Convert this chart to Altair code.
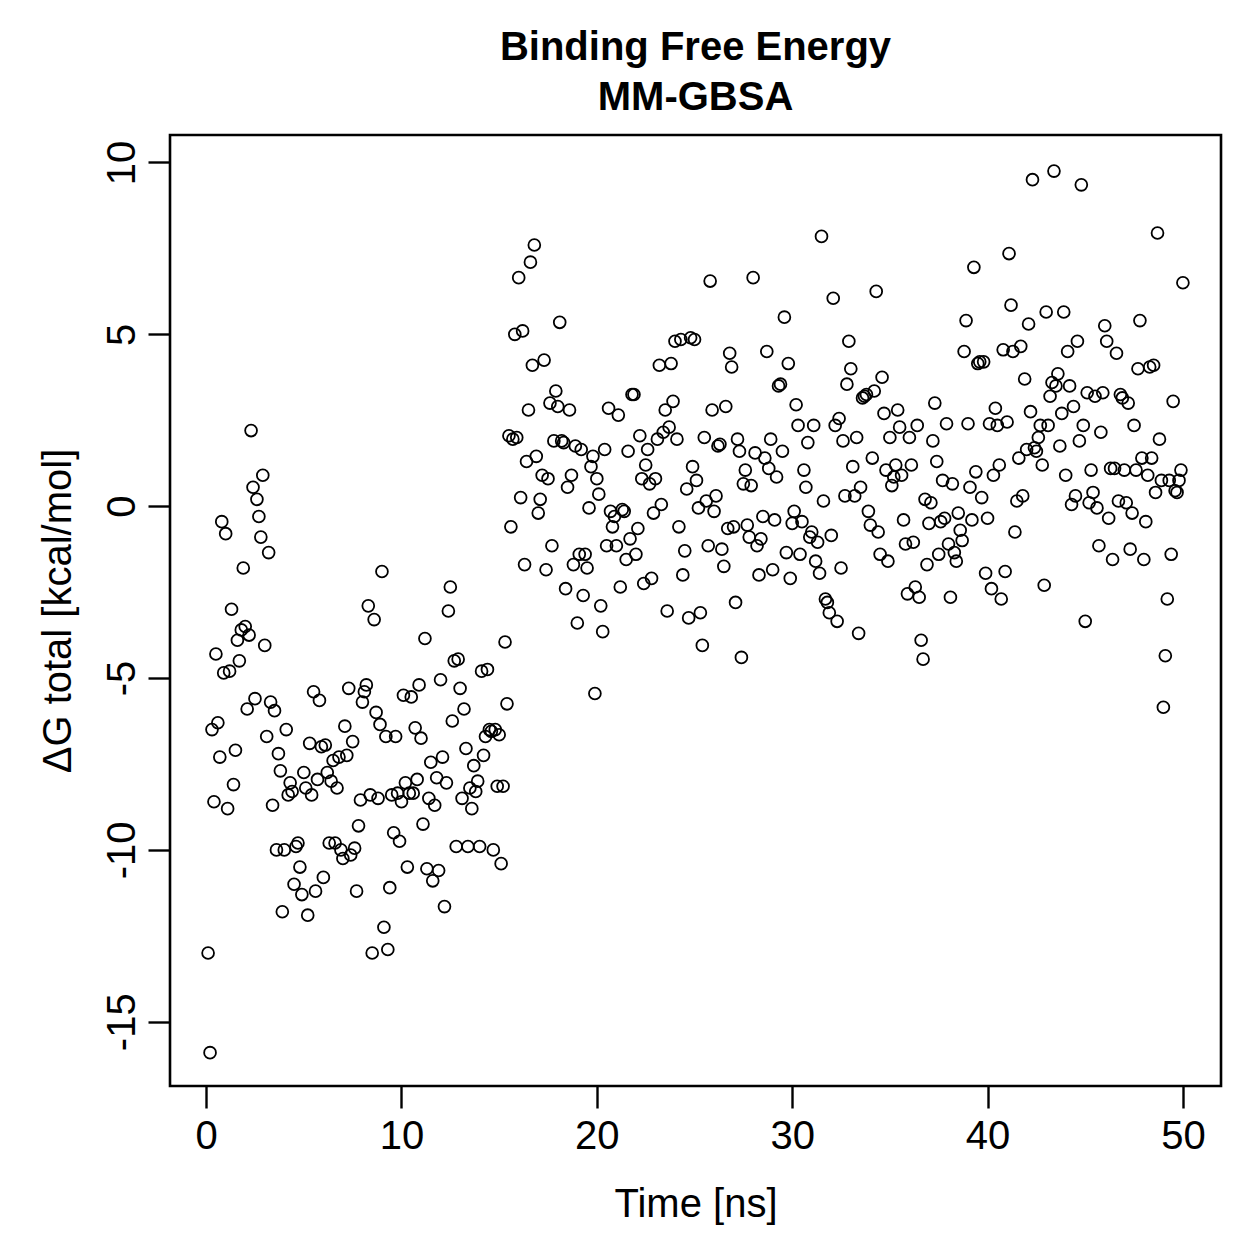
import altair as alt
import pandas as pd

# MM-GBSA binding free energy per snapshot (kcal/mol), one snapshot every 0.1 ns
SAMPLE_NS = 0.1

dg_first_phase = [
    -13.0, -15.9, -6.5, -8.6, -4.3, -6.3, -7.3, -0.45, -4.85, -0.8,
    -8.8, -4.8, -3.0, -8.1, -7.1, -3.9, -4.5, -3.6, -1.8, -3.5,
    -5.9, -3.75, 2.2, 0.55, -5.6, 0.2, -0.3, -0.9, 0.9, -4.05,
    -6.7, -1.35, -5.7, -8.7, -5.95, -10.0, -7.2, -7.7, -11.8, -10.0,
    -6.5, -8.4, -8.05, -8.3, -11.0, -9.9, -9.8, -10.5, -11.3, -7.75,
    -8.2, -11.9, -6.9, -8.4, -5.4, -11.2, -7.95, -5.65, -7.0, -10.8,
    -6.95, -7.75, -9.8, -8.0, -7.4, -9.8, -8.2, -7.3, -10.0, -10.25,
    -6.4, -7.25, -5.3, -10.15, -6.85, -9.95, -11.2, -9.3, -8.55, -5.7,
    -5.4, -5.2, -2.9, -8.4, -13.0, -3.3, -6.0, -8.5, -6.35, -1.9,
    -12.25, -6.7, -12.9, -11.1, -8.4, -9.5, -6.7, -8.35, -9.75, -8.6,
    -5.5, -8.05, -10.5, -8.35, -5.55, -8.35, -6.45, -7.95, -5.2, -6.75,
    -9.25, -3.85, -10.55, -8.5, -7.45, -10.9, -8.7, -7.9, -10.6, -5.05,
    -7.3, -11.65, -8.05, -3.05, -2.35, -6.25, -4.5, -9.9, -4.45, -5.3,
    -8.5, -5.9, -7.05, -9.9, -8.2, -8.8, -7.55, -8.3, -8.0, -9.9,
    -4.8, -7.25, -6.7, -4.75, -6.5, -6.55, -10.0, -6.5, -8.15, -6.65,
    -10.4, -8.15, -3.95, -5.75,
]

dg_second_phase = [
    2.05, -0.6, 1.95, 5.0, 2.0, 6.65, 0.25, 5.1, -1.7, 1.3,
    2.8, 7.1, 4.1, 7.6, 1.45, -0.2, 0.2, 0.9, 4.25, -1.85,
    0.8, 3.0, -1.15, 1.9, 3.35, 2.9, 5.35, 1.9, 1.85, -2.4,
    0.55, 2.8, 0.9, -1.7, 1.75, -3.4, -1.4, 1.65, -2.6, -1.4,
    -1.8, -0.05, 1.15, 1.45, -5.45, 0.8, 0.35, -2.9, -3.65, 1.65,
    -1.15, 2.85, -0.15, -0.6, -0.3, -1.15, 2.65, -2.35, -0.1, -0.15,
    -1.55, 1.6, -0.95, 3.25, 3.25, -1.4, -0.65, 2.05, 0.8, -2.25,
    1.2, 1.65, 0.65, -2.1, -0.2, 0.8, 1.95, 4.1, 0.05, 2.15,
    2.8, -3.05, 2.3, 4.15, 3.05, 4.8, 1.95, -0.6, 4.85, -2.0,
    -1.3, 0.5, -3.25, 4.9, 1.15, 4.85, 0.75, -0.05, -3.1, -4.05,
    2.0, 0.15, -1.15, 6.55, 2.8, -0.15, 0.3, 1.75, 1.8, -1.25,
    -1.75, 2.9, -0.65, 4.45, 4.05, -0.6, -2.8, 1.95, 1.6, -4.4,
    0.65, 1.05, -0.55, -0.9, 0.6, 6.65, 1.55, -1.15, -2.0, -0.95,
    -0.3, 1.4, 4.5, 1.1, 1.95, -1.85, -0.4, 0.85, 3.5, 3.55,
    1.6, 5.5, -1.35, 4.15, -2.1, -0.5, -0.15, 2.95, 2.35, -1.4,
    -0.45, 1.05, 0.55, 1.85, -0.9, -0.75, 2.35, -1.6, -1.05, -1.95,
    7.85, 0.15, -2.7, -2.8, -3.1, -0.85, 6.05, 2.35, -3.35, 2.55,
    -1.8, 1.9, 0.3, 3.55, 4.8, 4.0, 1.15, 0.3, 2.0, -3.7,
    0.55, 3.15, 3.2, 3.25, -0.15, -0.55, 1.4, 3.35, 6.25, -0.75,
    -1.4, 3.75, 2.7, 1.05, -1.6, 2.0, 0.6, 0.85, 1.2, 2.8,
    2.3, 0.9,
    -0.4, -1.1, -2.55, 2.0, 1.2, -1.05, -2.35, 2.35, -2.65, -3.9,
    -4.45, 0.2, -1.7, -0.5, 0.1, 1.9, 3.0, 1.3, -1.4, -0.45,
    0.75, -0.35, 2.4, -1.1, -2.65, 0.65, -1.35, -1.6, -0.2, -0.7,
    -1.0, 4.5, 5.4, 2.4, 0.55, -0.4, 6.95, 1.0, 4.15, 4.2,
    0.25, 4.2, -1.95, -0.35, 2.4, -2.4, 0.9, 2.85, 2.35, 1.2,
    -2.7, 4.55, -1.9, 2.45, 7.35, 5.85, 4.5, -0.75, 0.15, 1.4,
    4.65, 0.3, 3.7, 1.65, 5.3, 2.75, 9.5, 1.7, 1.6, 2.0,
    2.35, 1.2, -2.3, 5.65, 2.35, 3.2, 3.6, 9.75, 3.5, 3.85,
    1.75, 2.7,
    5.65, 0.9, 4.5, 3.5, 0.05, 2.9, 0.3, 4.8, 1.9, 9.35,
    2.35, -3.35, 3.3, 0.1, 1.05, 0.4, 3.2, -0.05, -1.15, 2.15,
    3.3, 5.25, 4.8, -0.35, 1.1, -1.55, 1.1, 4.45, 0.15, 3.25,
    3.15, 1.05, 0.1, 3.0, -1.25, -0.2, 2.35, 1.05, 4.0, 5.4,
    1.4, -1.55, -0.45, 0.9, 4.05, 1.4, 4.1, 0.4, 7.95, 1.95,
    0.75, -5.85, -4.35, -2.7, 0.75, -1.4, 3.05, 0.45, 0.4, 0.75,
    1.05, 6.5,
]

dg_total = dg_first_phase + dg_second_phase
time_ns = [round(SAMPLE_NS * (i + 1), 1) for i in range(len(dg_total))]

x_ticks = [0, 10, 20, 30, 40, 50]
y_ticks = [-15, -10, -5, 0, 5, 10]

df = pd.DataFrame({"time": time_ns, "dg": dg_total})

FONT = "Liberation Sans"

chart = (
    alt.Chart(df)
    .mark_point(shape="circle", filled=False, color="black", size=140, strokeWidth=1.8, opacity=1)
    .encode(
        x=alt.X(
            "time:Q",
            scale=alt.Scale(domain=[-1.85, 51.95], nice=False, zero=False),
            axis=alt.Axis(
                values=x_ticks,
                title="Time [ns]",
                labelExpr="toString(datum.value)",
                labelPadding=8,
                titlePadding=28,
            ),
        ),
        y=alt.Y(
            "dg:Q",
            scale=alt.Scale(domain=[-16.87, 10.8], nice=False, zero=False),
            axis=alt.Axis(
                values=y_ticks,
                title="ΔG total [kcal/mol]",
                labelExpr="toString(datum.value)",
                labelAngle=270,
                labelAlign="center",
                labelBaseline="alphabetic",
                labelPadding=14,
                titlePadding=24,
            ),
        ),
    )
    .properties(
        width=1051,
        height=951,
        title=alt.Title(
            text=["Binding Free Energy", "MM-GBSA"],
            font=FONT,
            fontSize=40,
            fontWeight="bold",
            color="black",
            anchor="middle",
            lineHeight=50,
            offset=17,
        ),
        autosize=alt.AutoSizeParams(type="none"),
        padding={"left": 170, "top": 135, "right": 38, "bottom": 173},
    )
    .configure(background="white")
    .configure_view(stroke="black", strokeWidth=2.6, fill="white")
    .configure_axis(
        domain=False,
        grid=False,
        ticks=True,
        tickSize=22,
        tickWidth=2.4,
        tickColor="black",
        labelFont=FONT,
        labelFontSize=40,
        labelColor="black",
        titleFont=FONT,
        titleFontSize=40,
        titleFontWeight="normal",
        titleColor="black",
    )
)

chart.save("out.html", embed_options={"renderer": "svg", "actions": False})
